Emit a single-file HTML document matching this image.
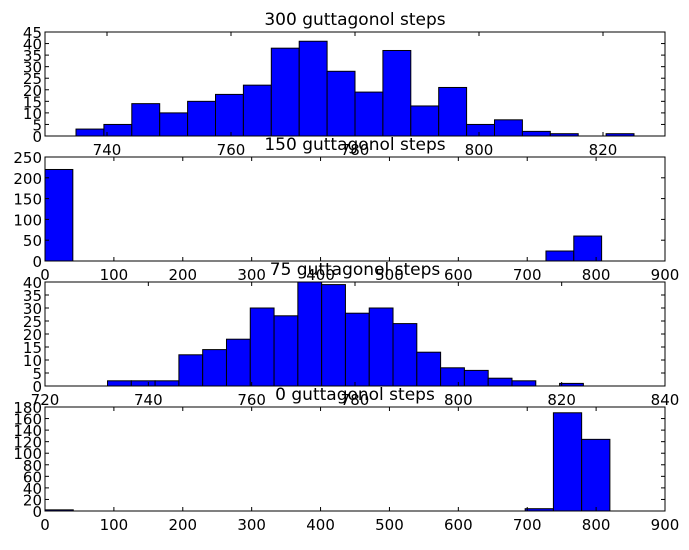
<!DOCTYPE html>
<html><head><meta charset="utf-8"><style>
html,body{margin:0;padding:0;background:#fff;}
svg text{font-family:"DejaVu Sans","Liberation Sans",sans-serif;fill:#000;}
</style></head><body>
<svg id="chart" width="689" height="545" xmlns="http://www.w3.org/2000/svg"></svg>
<script>
// ---- data ----
const titles = ["300 guttagonol steps","150 guttagonol steps","75 guttagonol steps","0 guttagonol steps"];
const counts300 = [3,5,14,10,15,18,22,38,41,28,19,37,13,21,5,7,2,1,0,1];
const edges300Start = 735, edges300End = 825;
const counts150 = [220,0,0,0,0,0,0,0,0,0,0,0,0,0,0,0,0,0,24,60];
const edges150Start = 0, edges150End = 808;
const counts75 = [2,2,2,12,14,18,30,27,40,39,28,30,24,13,7,6,3,2,0,1];
const edges75Start = 732.1, edges75End = 824.2;
const counts0 = [2,0,0,0,0,0,0,0,0,0,0,0,0,0,0,0,0,4,170,124];
const edges0Start = 0, edges0End = 820;
const xTicks300 = [740,760,780,800,820];
const xTicksWide = [0,100,200,300,400,500,600,700,800,900];
const xTicks75 = [720,740,760,780,800,820,840];
const yTicks300 = [0,5,10,15,20,25,30,35,40,45];
const yTicks150 = [0,50,100,150,200,250];
const yTicks75 = [0,5,10,15,20,25,30,35,40];
const yTicks0 = [0,20,40,60,80,100,120,140,160,180];

const svg = document.getElementById('chart');
const NS = 'http://www.w3.org/2000/svg';
function mk(tag, attrs, parent){const e=document.createElementNS(NS,tag);for(const k in attrs)e.setAttribute(k,attrs[k]);(parent||svg).appendChild(e);return e;}

const L=45, R=665;
const panels = [
 {top:32,bot:136,xmin:730,xmax:830,ymax:45,counts:counts300,s:edges300Start,e:edges300End,xt:xTicks300,yt:yTicks300,name:'300-steps'},
 {top:157,bot:261,xmin:0,xmax:900,ymax:250,counts:counts150,s:edges150Start,e:edges150End,xt:xTicksWide,yt:yTicks150,name:'150-steps'},
 {top:282,bot:386,xmin:720,xmax:840,ymax:40,counts:counts75,s:edges75Start,e:edges75End,xt:xTicks75,yt:yTicks75,name:'75-steps'},
 {top:407,bot:511,xmin:0,xmax:900,ymax:180,counts:counts0,s:edges0Start,e:edges0End,xt:xTicksWide,yt:yTicks0,name:'0-steps'}
];
panels.forEach((p,i)=>{
  const g = mk('g',{});
  
  
  const xs = v => L + (v-p.xmin)/(p.xmax-p.xmin)*(R-L);
  const ys = v => p.bot - v/p.ymax*(p.bot-p.top);
  const n = p.counts.length, w = (p.e-p.s)/n;
  p.counts.forEach((c,j)=>{
    if(c<=0) return;
    const x0=xs(p.s+j*w), x1=xs(p.s+(j+1)*w);
    const r = mk('rect',{x:x0,y:ys(c),width:x1-x0,height:p.bot-ys(c),fill:'#0000ff',stroke:'#000','stroke-width':1},g);
    
    
  });
  p.xt.forEach(t=>{
    const x=xs(t);
    mk('line',{x1:x,x2:x,y1:p.bot,y2:p.bot-4,stroke:'#000'},g);
    mk('line',{x1:x,x2:x,y1:p.top,y2:p.top+4,stroke:'#000'},g);
    const tx = mk('text',{x:x,y:p.bot+19,'text-anchor':'middle','font-size':15},g);
    tx.textContent=t;
    
    
  });
  p.yt.forEach(t=>{
    const y=ys(t);
    mk('line',{x1:L,x2:L+4,y1:y,y2:y,stroke:'#000'},g);
    mk('line',{x1:R,x2:R-4,y1:y,y2:y,stroke:'#000'},g);
    const tx = mk('text',{x:L-3,y:y+6,'text-anchor':'end','font-size':15},g);
    tx.textContent=t;
    
    
  });
  const fr = mk('rect',{x:L,y:p.top,width:R-L,height:p.bot-p.top,fill:'none',stroke:'#000','stroke-width':1},g);
  
  
  const tt = mk('text',{x:(L+R)/2,y:p.top-7,'text-anchor':'middle','font-size':17},g);
  tt.textContent = titles[i];
  
  
});
</script>
</body></html>
